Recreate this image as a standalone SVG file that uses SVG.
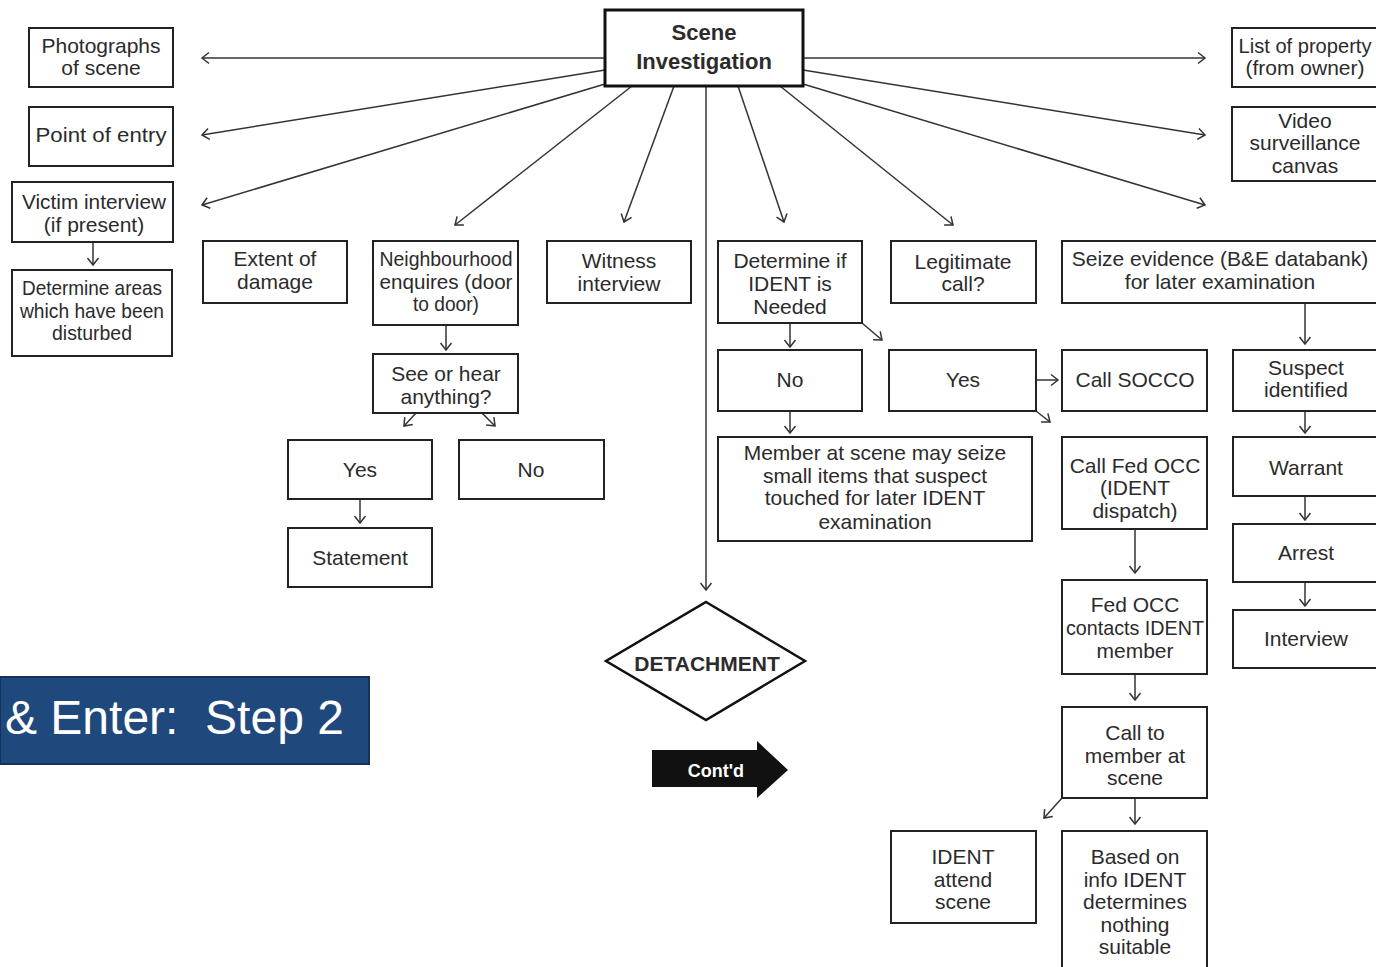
<svg xmlns="http://www.w3.org/2000/svg" width="1376" height="967" viewBox="0 0 1376 967">
<defs>
<marker id="ah" markerUnits="userSpaceOnUse" markerWidth="14" markerHeight="14" refX="10" refY="6" orient="auto" overflow="visible">
<path d="M3,0.5 L10,6 L3,11.5" fill="none" stroke="#333" stroke-width="1.5"/>
</marker>
<style>
.box{fill:#fff;stroke:#222;stroke-width:2}
.t{font-family:"Liberation Sans",Arial,sans-serif;font-size:21px;fill:#2b2b2b;text-anchor:middle}
.b{font-weight:bold}
.c{fill:none;stroke:#333;stroke-width:1.5;marker-end:url(#ah)}
.p{fill:none;stroke:#333;stroke-width:1.5}
</style>
</defs>
<rect width="1376" height="967" fill="#fff"/>

<g id="connectors">
<line class="c" x1="605" y1="58" x2="202" y2="58"/>
<line class="c" x1="605" y1="70" x2="202" y2="135"/>
<line class="c" x1="605" y1="84" x2="202" y2="205"/>
<line class="c" x1="632" y1="86" x2="455" y2="225"/>
<line class="c" x1="674" y1="86" x2="624" y2="222"/>
<line class="c" x1="706" y1="86" x2="706" y2="590"/>
<line class="c" x1="738" y1="86" x2="784" y2="222"/>
<line class="c" x1="780" y1="86" x2="953" y2="225"/>
<line class="c" x1="803" y1="58" x2="1205" y2="58"/>
<line class="c" x1="803" y1="70" x2="1205" y2="135"/>
<line class="c" x1="803" y1="84" x2="1205" y2="205"/>
<line class="c" x1="93" y1="242" x2="93" y2="265"/>
<line class="c" x1="446" y1="325" x2="446" y2="350"/>
<line class="c" x1="416" y1="413" x2="404" y2="426"/>
<line class="c" x1="482" y1="413" x2="495" y2="426"/>
<line class="c" x1="360" y1="499" x2="360" y2="523"/>
<line class="c" x1="790" y1="323" x2="790" y2="347"/>
<line class="c" x1="862" y1="323" x2="882" y2="340"/>
<line class="c" x1="790" y1="411" x2="790" y2="433"/>
<line class="c" x1="1036" y1="380" x2="1058" y2="380"/>
<line class="c" x1="1036" y1="411" x2="1050" y2="422"/>
<line class="c" x1="1135" y1="529" x2="1135" y2="573"/>
<line class="c" x1="1135" y1="674" x2="1135" y2="700"/>
<line class="c" x1="1135" y1="798" x2="1135" y2="824"/>
<line class="c" x1="1062" y1="798" x2="1044" y2="818"/>
<line class="c" x1="1305" y1="303" x2="1305" y2="344"/>
<line class="c" x1="1305" y1="411" x2="1305" y2="433"/>
<line class="c" x1="1305" y1="496" x2="1305" y2="520"/>
<line class="c" x1="1305" y1="582" x2="1305" y2="606"/>
</g>

<g id="scene">
<rect x="605" y="10" width="198" height="76" fill="#fff" stroke="#111" stroke-width="3"/>
<text class="t b" x="704" y="40" style="font-size:22px">Scene</text>
<text class="t b" x="704" y="69" style="font-size:22px">Investigation</text>
</g>

<g id="photographs"><rect class="box" x="29" y="28" width="144" height="59"/>
<text class="t" x="101" y="53">Photographs</text><text class="t" x="101" y="75">of scene</text></g>

<g id="entry"><rect class="box" x="29" y="107" width="144" height="59"/>
<text class="t" x="101" y="142" textLength="131" lengthAdjust="spacingAndGlyphs">Point of entry</text></g>

<g id="victim"><rect class="box" x="12" y="182" width="161" height="60"/>
<text class="t" x="94" y="209" textLength="144" lengthAdjust="spacingAndGlyphs">Victim interview</text><text class="t" x="94" y="232">(if present)</text></g>

<g id="areas"><rect class="box" x="12" y="270" width="160" height="86"/>
<text class="t" x="92" y="295" textLength="140" lengthAdjust="spacingAndGlyphs">Determine areas</text>
<text class="t" x="92" y="318" textLength="144" lengthAdjust="spacingAndGlyphs">which have been</text>
<text class="t" x="92" y="340" textLength="80" lengthAdjust="spacingAndGlyphs">disturbed</text></g>

<g id="extent"><rect class="box" x="203" y="241" width="144" height="62"/>
<text class="t" x="275" y="266">Extent of</text><text class="t" x="275" y="289">damage</text></g>

<g id="neighbourhood"><rect class="box" x="373" y="241" width="145" height="84"/>
<text class="t" x="446" y="266" textLength="133" lengthAdjust="spacingAndGlyphs">Neighbourhood</text>
<text class="t" x="446" y="289" textLength="133" lengthAdjust="spacingAndGlyphs">enquires (door</text>
<text class="t" x="446" y="311" textLength="66" lengthAdjust="spacingAndGlyphs">to door)</text></g>

<g id="witness"><rect class="box" x="547" y="241" width="144" height="62"/>
<text class="t" x="619" y="268">Witness</text><text class="t" x="619" y="291">interview</text></g>

<g id="determine-ident"><rect class="box" x="718" y="241" width="144" height="82"/>
<text class="t" x="790" y="268">Determine if</text><text class="t" x="790" y="291">IDENT is</text><text class="t" x="790" y="314">Needed</text></g>

<g id="legitimate"><rect class="box" x="891" y="241" width="145" height="62"/>
<text class="t" x="963" y="269">Legitimate</text><text class="t" x="963" y="291">call?</text></g>

<g id="seize"><rect class="box" x="1062" y="241" width="320" height="62"/>
<text class="t" x="1220" y="266">Seize evidence (B&amp;E databank)</text><text class="t" x="1220" y="289">for later examination</text></g>

<g id="list-property"><rect class="box" x="1232" y="28" width="150" height="59"/>
<text class="t" x="1305" y="53" textLength="133" lengthAdjust="spacingAndGlyphs">List of property</text><text class="t" x="1305" y="75">(from owner)</text></g>

<g id="video"><rect class="box" x="1232" y="107" width="150" height="74"/>
<text class="t" x="1305" y="128">Video</text><text class="t" x="1305" y="150">surveillance</text><text class="t" x="1305" y="173">canvas</text></g>

<g id="see-hear"><rect class="box" x="373" y="354" width="145" height="59"/>
<text class="t" x="446" y="381">See or hear</text><text class="t" x="446" y="404">anything?</text></g>

<g id="yes-left"><rect class="box" x="288" y="440" width="144" height="59"/>
<text class="t" x="360" y="477">Yes</text></g>

<g id="no-left"><rect class="box" x="459" y="440" width="145" height="59"/>
<text class="t" x="531" y="477">No</text></g>

<g id="statement"><rect class="box" x="288" y="528" width="144" height="59"/>
<text class="t" x="360" y="565">Statement</text></g>

<g id="no-ident"><rect class="box" x="718" y="350" width="144" height="61"/>
<text class="t" x="790" y="387">No</text></g>

<g id="yes-ident"><rect class="box" x="889" y="350" width="147" height="61"/>
<text class="t" x="963" y="387">Yes</text></g>

<g id="member-seize"><rect class="box" x="718" y="437" width="314" height="104"/>
<text class="t" x="875" y="460">Member at scene may seize</text>
<text class="t" x="875" y="483">small items that suspect</text>
<text class="t" x="875" y="505">touched for later IDENT</text>
<text class="t" x="875" y="529">examination</text></g>

<g id="socco"><rect class="box" x="1062" y="350" width="145" height="61"/>
<text class="t" x="1135" y="387">Call SOCCO</text></g>

<g id="fed-occ"><rect class="box" x="1062" y="437" width="145" height="92"/>
<text class="t" x="1135" y="473">Call Fed OCC</text><text class="t" x="1135" y="495">(IDENT</text><text class="t" x="1135" y="518">dispatch)</text></g>

<g id="fed-contacts"><rect class="box" x="1062" y="580" width="145" height="94"/>
<text class="t" x="1135" y="612">Fed OCC</text>
<text class="t" x="1135" y="635" textLength="138" lengthAdjust="spacingAndGlyphs">contacts IDENT</text>
<text class="t" x="1135" y="658">member</text></g>

<g id="call-member"><rect class="box" x="1062" y="707" width="145" height="91"/>
<text class="t" x="1135" y="740">Call to</text><text class="t" x="1135" y="763">member at</text><text class="t" x="1135" y="785">scene</text></g>

<g id="based-on"><rect class="box" x="1062" y="831" width="145" height="145"/>
<text class="t" x="1135" y="864">Based on</text><text class="t" x="1135" y="887">info IDENT</text><text class="t" x="1135" y="909">determines</text><text class="t" x="1135" y="932">nothing</text><text class="t" x="1135" y="954">suitable</text></g>

<g id="ident-attend"><rect class="box" x="891" y="831" width="145" height="92"/>
<text class="t" x="963" y="864">IDENT</text><text class="t" x="963" y="887">attend</text><text class="t" x="963" y="909">scene</text></g>

<g id="suspect"><rect class="box" x="1233" y="350" width="150" height="61"/>
<text class="t" x="1306" y="375">Suspect</text><text class="t" x="1306" y="397">identified</text></g>

<g id="warrant"><rect class="box" x="1233" y="437" width="150" height="59"/>
<text class="t" x="1306" y="475">Warrant</text></g>

<g id="arrest"><rect class="box" x="1233" y="524" width="150" height="58"/>
<text class="t" x="1306" y="560">Arrest</text></g>

<g id="interview"><rect class="box" x="1233" y="610" width="150" height="58"/>
<text class="t" x="1306" y="646">Interview</text></g>

<g id="detachment">
<polygon points="706,602 805,661 706,720 606,661" fill="#fff" stroke="#111" stroke-width="2.5"/>
<text class="t b" x="707" y="671" fill="#1a1a1a">DETACHMENT</text>
</g>

<g id="contd">
<polygon points="652,750 757,750 757,741 788,770 757,798 757,787 652,787" fill="#111"/>
<text x="716" y="777" font-family="Liberation Sans,Arial,sans-serif" font-size="18" font-weight="bold" fill="#fff" text-anchor="middle">Cont'd</text>
</g>

<g id="banner">
<rect x="0" y="677" width="369" height="87" fill="#1f497d" stroke="#14325a" stroke-width="2"/>
<text x="5" y="734" xml:space="preserve" font-family="Liberation Sans,Arial,sans-serif" font-size="48" fill="#fff">&amp; Enter:  Step 2</text>
</g>
</svg>
